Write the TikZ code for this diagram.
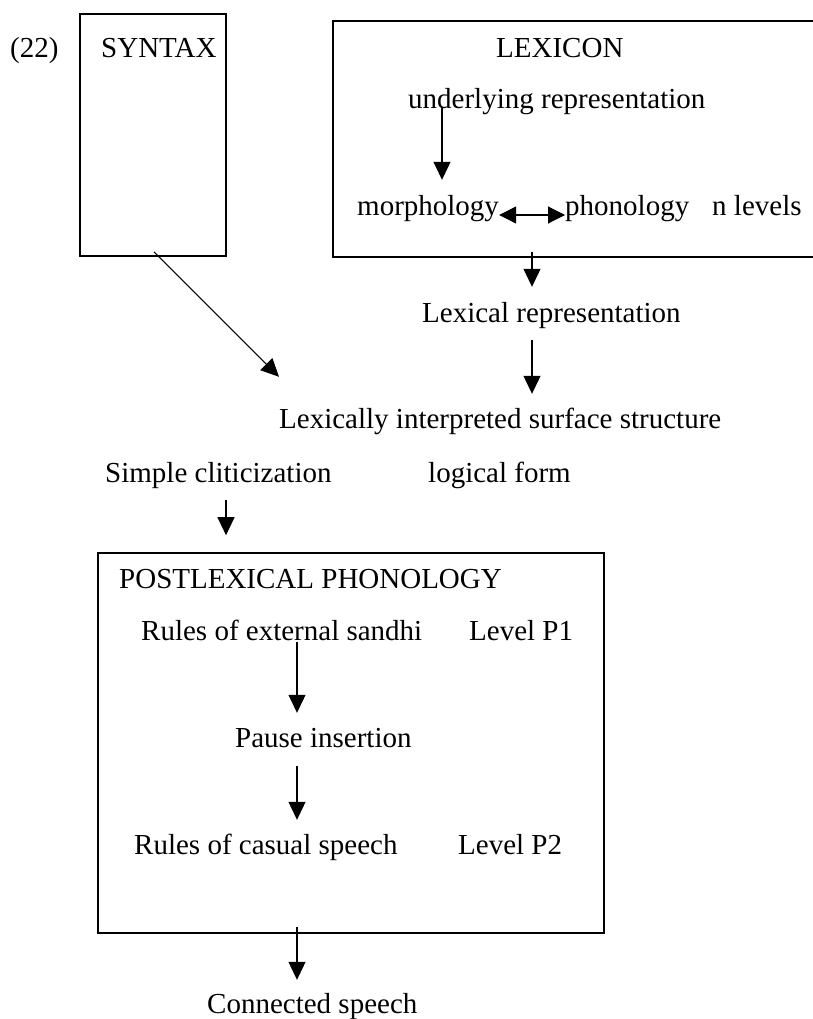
\documentclass[tikz,border=0pt]{standalone}
\usepackage{fontspec}
\setmainfont{Liberation Serif}
\usetikzlibrary{arrows.meta}

\tikzset{
  txt/.style={inner sep=0pt, anchor=base west, text height=20pt, text depth=6pt,
    font=\fontsize{29}{35}\selectfont},
  box/.style={draw, line width=1.6pt, inner sep=0pt},
  arr/.style={-{Triangle[length=18pt,width=17pt]}, line width=1.1pt},
  darr/.style={{Triangle[length=17pt,width=17pt]}-{Triangle[length=17pt,width=17pt]}, line width=1.1pt}
}

\begin{document}
\begin{tikzpicture}[x=1pt, y=-1pt]
        \useasboundingbox (0,0) rectangle (812,1019);

        % boxes
        \node[box, minimum width=146pt, minimum height=242pt] (syntax) at (153,135) {};
        \node[box, minimum width=497pt, minimum height=236pt] (lexbox) at (581.5,139) {};
        \node[box, minimum width=506pt, minimum height=380pt] (postlex) at (351,743) {};

        % top row
        \node[txt] (num) at (10,58) {(22)};
        \node[txt] (syn) at (101,58) {SYNTAX};
        \node[txt] (lex) at (496,58) {LEXICON};
        \node[txt] (ur) at (408,109) {underlying representation};
        \node[txt] (morph) at (357,215) {morphology};
        \node[txt] (phon) at (565,215) {phonology};
        \node[txt] (nlev) at (712,215) {n levels};

        % middle
        \node[txt] (lexrep) at (422,322) {Lexical representation};
        \node[txt] (lexint) at (279,428) {Lexically interpreted surface structure};
        \node[txt] (clit) at (105,482) {Simple cliticization};
        \node[txt] (lf) at (428,482) {logical form};

        % postlexical phonology
        \node[txt] (plp) at (119,588) {POSTLEXICAL PHONOLOGY};
        \node[txt] (sandhi) at (141,640) {Rules of external sandhi};
        \node[txt] (lp1) at (469,640) {Level P1};
        \node[txt] (pause) at (235,747) {Pause insertion};
        \node[txt] (casual) at (134,854) {Rules of casual speech};
        \node[txt] (lp2) at (458,854) {Level P2};
        \node[txt] (conn) at (207,1013) {Connected speech};

        % arrow columns
        \coordinate (xa) at (442,0);
        \coordinate (xb) at (532,0);
        \coordinate (xc) at (226,0);
        \coordinate (xd) at (297,0);

        \draw[arr, shorten <=-8pt, shorten >=15pt] (ur.south -| xa) -- (morph.north -| xa);
        \draw[darr] (morph.base east) -- (phon.base west);
        \draw[arr, shorten <=-6pt, shorten >=15pt] (lexbox.south -| xb) -- (lexrep.north -| xb);
        \draw[arr, shorten <=12pt, shorten >=14pt] (lexrep.south -| xb) -- (lexint.north -| xb);
        \draw[arr, shorten <=-7pt] ([xshift=6pt]syntax.south) -- ([yshift=31pt]lexint.north west);
        \draw[arr, shorten <=12pt, shorten >=17pt] (clit.south -| xc) -- (postlex.north -| xc);
        \draw[arr, shorten <=-4pt, shorten >=14pt] (sandhi.south -| xd) -- (pause.north -| xd);
        \draw[arr, shorten <=13pt, shorten >=14pt] (pause.south -| xd) -- (casual.north -| xd);
        \draw[arr, shorten <=-7pt, shorten >=13pt] (postlex.south -| xd) -- (conn.north -| xd);

        \end{tikzpicture}
\end{document}
